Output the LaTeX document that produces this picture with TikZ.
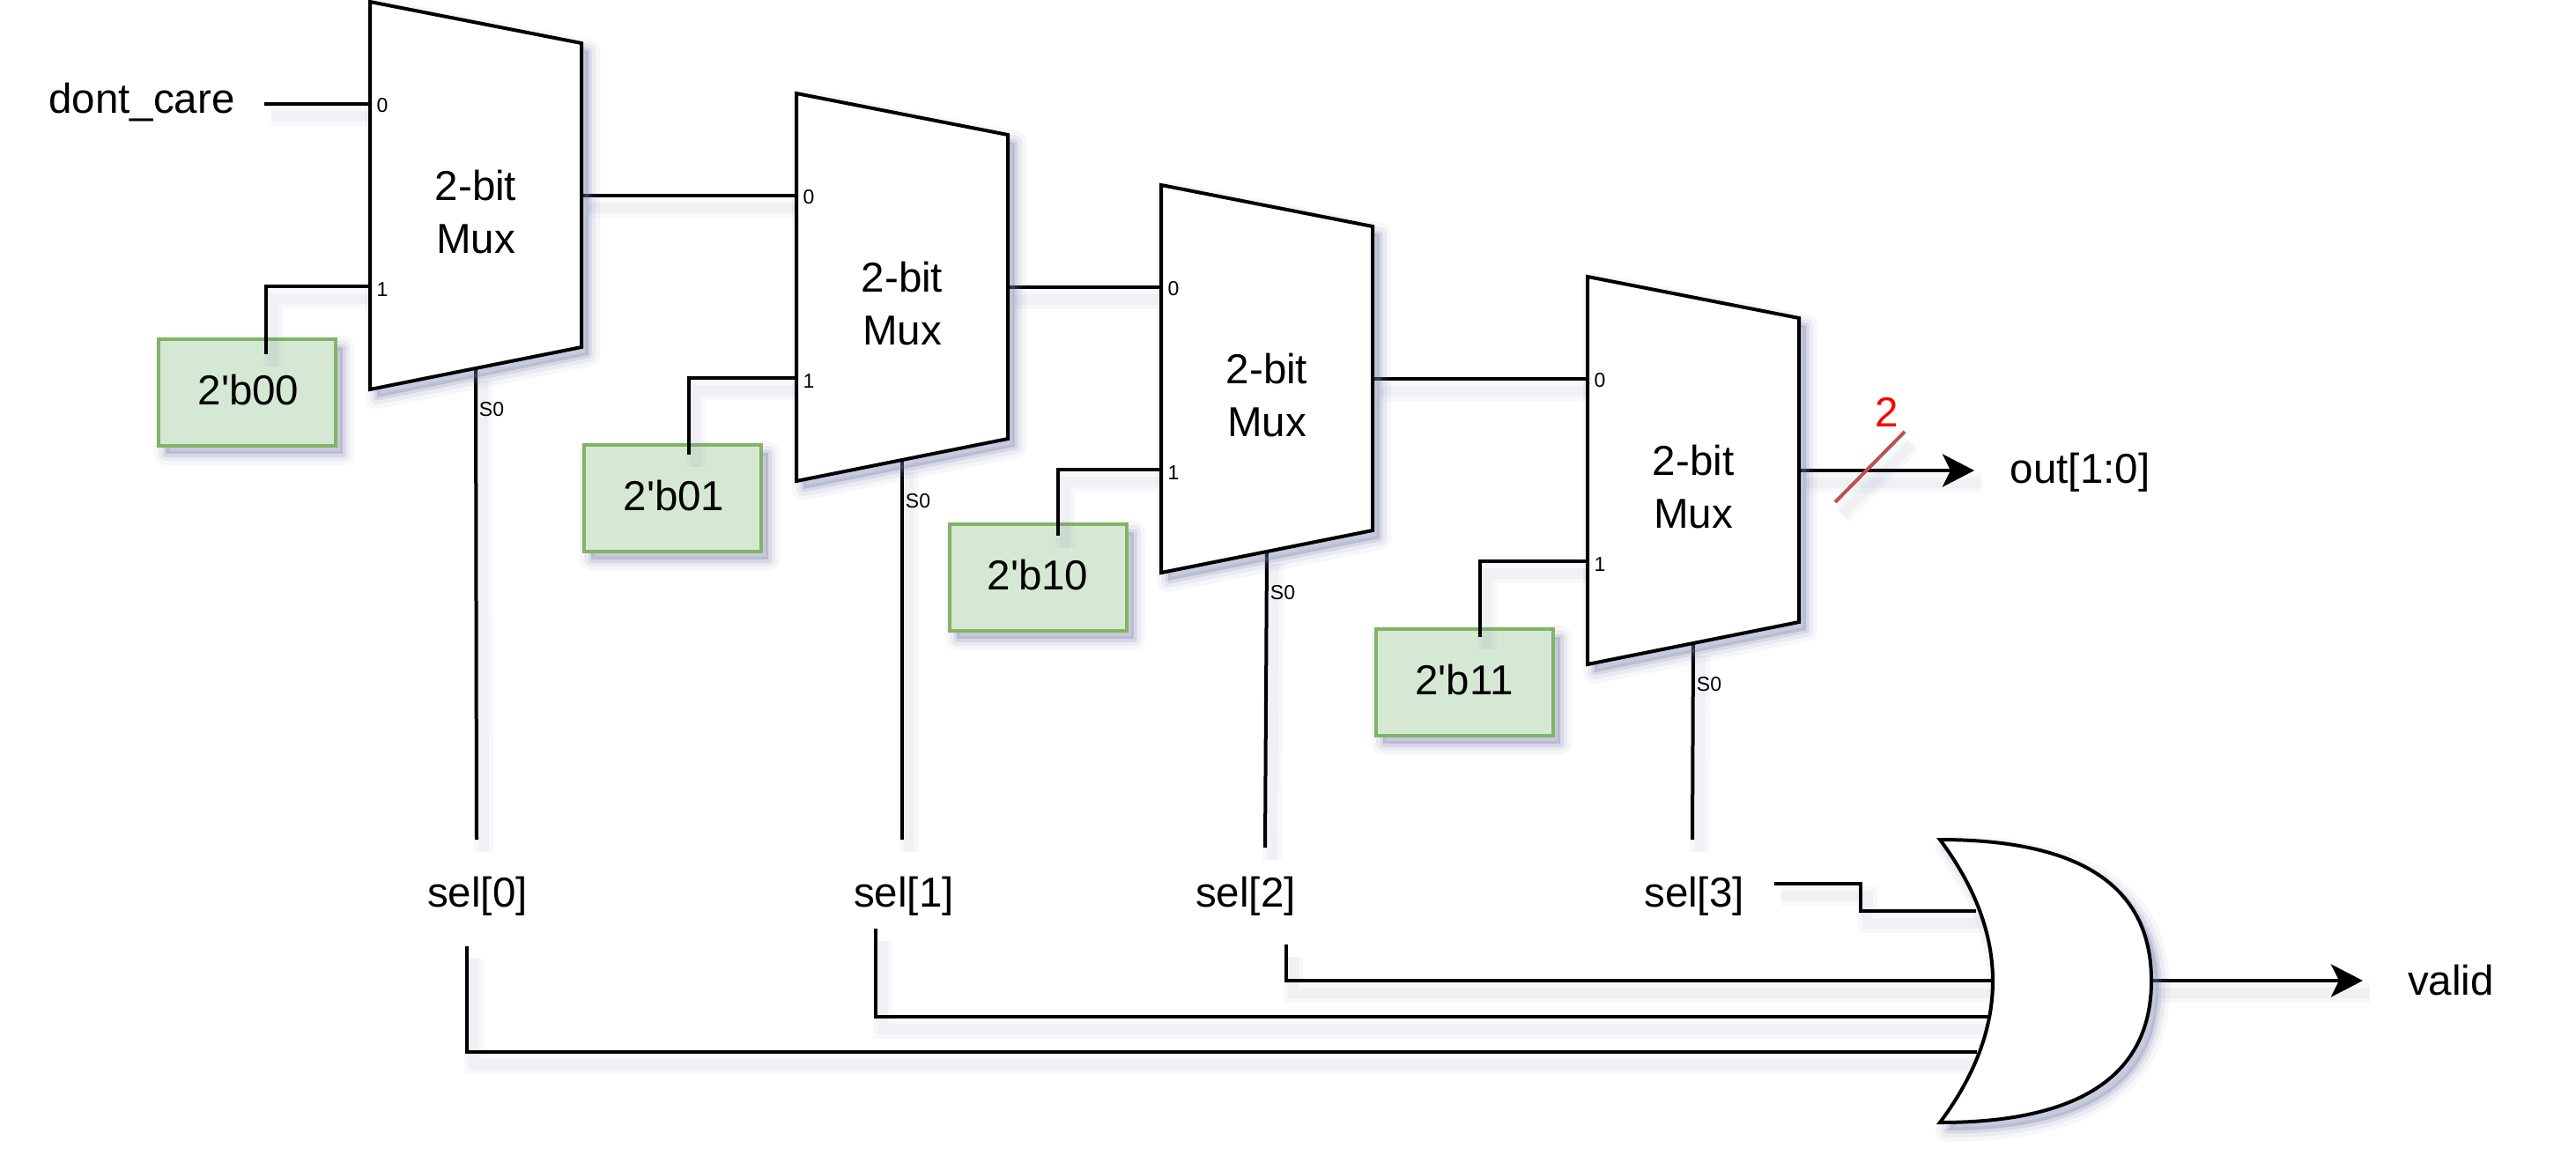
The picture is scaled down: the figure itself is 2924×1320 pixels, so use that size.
\documentclass[tikz,border=0pt]{standalone}
\usepackage{fontspec}
\setmainfont{Liberation Sans}
\newfontfamily\plainf{Liberation Sans}
\usetikzlibrary{arrows.meta,calc}
\pgfdeclarelayer{boxes}
\pgfdeclarelayer{wires}
\pgfsetlayers{boxes,wires,main}
\definecolor{shc}{RGB}{120,126,170}
\definecolor{boxfill}{HTML}{D5E8D4}
\definecolor{boxline}{HTML}{82B366}
\definecolor{slashc}{HTML}{B85450}
\newcommand{\bigf}{\plainf\fontsize{47.5}{60}\selectfont}
\newcommand{\smallf}{\plainf\fontsize{23}{27}\selectfont}
\tikzset{
  softshape/.style={
    preaction={draw=shc,fill=shc,opacity=.06,line width=26pt,line join=round,transform canvas={shift={(8pt,-9pt)}}},
    preaction={draw=shc,fill=shc,opacity=.10,line width=16pt,line join=round,transform canvas={shift={(8pt,-9pt)}}},
    preaction={draw=shc,fill=shc,opacity=.16,line width=7pt,line join=round,transform canvas={shift={(8pt,-9pt)}}}},
  softwire/.style={
    preaction={draw=shc,opacity=.05,line width=22pt,transform canvas={shift={(8pt,-14pt)}},arrows=-},
    preaction={draw=shc,opacity=.06,line width=12pt,transform canvas={shift={(8pt,-14pt)}},arrows=-}},
  wire/.style={draw=black,line width=4pt,softwire},
  muxshape/.style={draw=black,fill=white,line width=4pt,softshape},
  constbox/.style={draw=boxline,fill=boxfill,line width=4pt,softshape,minimum width=201pt,minimum height=121pt,inner sep=0pt,outer sep=0pt},
  sigtext/.style={font=\bigf,inner sep=0pt,anchor=base,text=black},
  muxtext/.style={font=\bigf,inner sep=0pt,align=center,anchor=center,text=black},
  porttext/.style={font=\smallf,inner sep=0pt,anchor=base,text=black},
  arrowwire/.style={wire,-{Stealth[length=36pt,width=37pt,inset=9pt]}},
}
\newcommand{\muxblock}[3]{%
  \begin{scope}[shift={(#2,#3)}]
    \draw[muxshape,name=#1-body] (0,0) -- (240,47) -- (240,392) -- (0,440) -- cycle;
    \coordinate (#1-i0) at (0,116);
    \coordinate (#1-i1) at (0,323);
    \coordinate (#1-o) at (240,220);
    \coordinate (#1-s) at (120,416);
    \node[muxtext] (#1-t) at (120,239) {2-bit\\Mux};
    \node[porttext] (#1-p0) at (14,125) {0};
    \node[porttext] (#1-p1) at (14,334) {1};
    \node[porttext] (#1-ps) at (138,470) {S0};
  \end{scope}}
\begin{document}
\begin{tikzpicture}[x=1pt,y=-1pt]
\useasboundingbox (0,0) rectangle (2924,1320);
\begin{pgfonlayer}{boxes}
  \fill[white] (0,0) rectangle (2924,1320);
\end{pgfonlayer}
\muxblock{m1}{420}{2}
\muxblock{m2}{904}{106}
\muxblock{m3}{1318}{210}
\muxblock{m4}{1802}{314}
% constant boxes
\begin{pgfonlayer}{boxes}
  \node[constbox,anchor=north west] (b1) at (180,385) {};
  \node[constbox,anchor=north west] (b2) at (663,505) {};
  \node[constbox,anchor=north west] (b3) at (1078,595) {};
  \node[constbox,anchor=north west] (b4) at (1562,714) {};
\end{pgfonlayer}
\node[sigtext] (b1t) at (282,459) {2'b00};
\node[sigtext] (b2t) at (765,579) {2'b01};
\node[sigtext] (b3t) at (1178,669) {2'b10};
\node[sigtext] (b4t) at (1662,788) {2'b11};
% signal labels
\node[sigtext] (dc) at (161,128) {dont\_care};
\node[sigtext] (outl) at (2361,548) {out[1:0]};
\node[sigtext] (valid) at (2782,1129) {valid};
\node[sigtext] (s0) at (542,1029) {sel[0]};
\node[sigtext] (s1) at (1026,1029) {sel[1]};
\node[sigtext] (s2) at (1414,1029) {sel[2]};
\node[sigtext] (s3) at (1923,1029) {sel[3]};
\node[sigtext,text=red] (two) at (2142,484) {2};
% OR gate
\coordinate (ortop) at (2202,953);
\coordinate (ormid) at (2442,1113);
\coordinate (orbot) at (2202,1274);
\draw[muxshape,name=orgate] (ortop)
  .. controls (2362,953) and (2442,1006) .. (ormid)
  .. controls (2442,1220) and (2362,1274) .. (orbot)
  .. controls (2282,1167) and (2282,1060) .. (ortop) -- cycle;
% free ends
\coordinate (dcw) at (300,118);
\coordinate (b1w) at (302,402);
\coordinate (b2w) at (782,516);
\coordinate (b3w) at (1201,608);
\coordinate (b4w) at (1680,723);
\coordinate (s0t) at (541,953);
\coordinate (s1t) at (1024,953);
\coordinate (s2t) at (1436,962);
\coordinate (s3t) at (1921,953);
\coordinate (s0b) at (530,1074);
\coordinate (s1b) at (994,1054);
\coordinate (s2b) at (1460,1072);
\coordinate (s3b) at (2014,1003);
\coordinate (or0) at (2244,1194);
\coordinate (or1) at (2258,1154);
\coordinate (or2) at (2262,1113);
\coordinate (or3) at (2243,1034);
\coordinate (outtip) at (2241,534);
\coordinate (validtip) at (2682,1113);
\coordinate (slasha) at (2083,570);
\coordinate (slashb) at (2162,490);
\begin{pgfonlayer}{wires}
  \draw[wire] (dcw) -- (m1-i0);
  \draw[wire] (m1-i1) -| (b1w);
  \draw[wire] (m2-i1) -| (b2w);
  \draw[wire] (m3-i1) -| (b3w);
  \draw[wire] (m4-i1) -| (b4w);
  \draw[wire] (m1-o) -- (m2-i0);
  \draw[wire] (m2-o) -- (m3-i0);
  \draw[wire] (m3-o) -- (m4-i0);
  \draw[wire] (m1-s) -- (s0t);
  \draw[wire] (m2-s) -- (s1t);
  \draw[wire] (m3-s) -- (s2t);
  \draw[wire] (m4-s) -- (s3t);
  \draw[wire] (s0b) |- (or0);
  \draw[wire] (s1b) |- (or1);
  \draw[wire] (s2b) |- (or2);
  \draw[wire] (s3b) -- (2112,1003) -- (2112,1034) -- (or3);
  \draw[arrowwire] (m4-o) -- (outtip);
  \draw[arrowwire] (ormid) -- (validtip);
  \draw[draw=slashc,line width=4pt,softwire] (slasha) -- (slashb);
\end{pgfonlayer}
\end{tikzpicture}
\end{document}
